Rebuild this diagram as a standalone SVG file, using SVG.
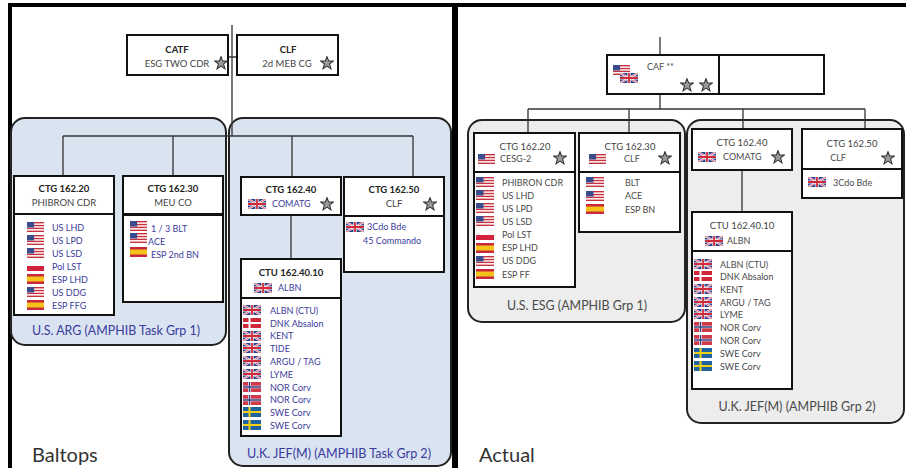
<svg xmlns="http://www.w3.org/2000/svg" xmlns:xlink="http://www.w3.org/1999/xlink" width="906" height="468" viewBox="0 0 906 468">
<style>
.frame{stroke:#000;fill:none}
.box{fill:#fff;stroke:#111;stroke-width:2}
.ln{stroke:#333;stroke-width:1.3;fill:none}
.grpB{fill:#d9e4f0;stroke:#222;stroke-width:2}
.grpG{fill:#ededed;stroke:#222;stroke-width:2}
text{font-family:Lato,"Liberation Sans",sans-serif}
.hb{font-size:9.5px;font-weight:bold;fill:#222;text-anchor:middle}
.hn{font-size:9.5px;fill:#444;text-anchor:middle}
.li{font-size:9px;fill:#3c3c9c}
.lr{font-size:9px;fill:#4a4a4a}
.gl{font-size:13px;fill:#3a3a9e;text-anchor:middle}
.gr{font-size:13px;fill:#4a4a4a;text-anchor:middle}
.big{font-size:20px;fill:#333}
</style>
<defs>
<symbol id="us" viewBox="0 0 18 10" preserveAspectRatio="none">
<rect width="18" height="10" fill="#fff"/>
<g fill="#c8313e"><rect y="0" width="18" height="1.4"/><rect y="2.85" width="18" height="1.4"/><rect y="5.7" width="18" height="1.4"/><rect y="8.6" width="18" height="1.4"/></g>
<rect width="7.5" height="5.5" fill="#3b4c8c"/>
</symbol>
<symbol id="uk" viewBox="0 0 18 10" preserveAspectRatio="none">
<rect width="18" height="10" fill="#2d3e8e"/>
<path d="M0 0L18 10M18 0L0 10" stroke="#fff" stroke-width="2"/>
<path d="M0 0L18 10M18 0L0 10" stroke="#cf2a3a" stroke-width="0.7"/>
<path d="M9 0V10M0 5H18" stroke="#fff" stroke-width="3.2"/>
<path d="M9 0V10M0 5H18" stroke="#cf2a3a" stroke-width="1.8"/>
</symbol>
<symbol id="es" viewBox="0 0 18 10" preserveAspectRatio="none">
<rect width="18" height="10" fill="#c8283a"/>
<rect y="2.5" width="18" height="5" fill="#f4c21b"/>
</symbol>
<symbol id="pl" viewBox="0 0 18 10" preserveAspectRatio="none">
<rect width="18" height="5" fill="#fafafa"/>
<rect y="5" width="18" height="5" fill="#d4213d"/>
</symbol>
<symbol id="dk" viewBox="0 0 18 10" preserveAspectRatio="none">
<rect width="18" height="10" fill="#d0283b"/>
<path d="M6.5 0V10M0 5H18" stroke="#fff" stroke-width="2"/>
</symbol>
<symbol id="no" viewBox="0 0 18 10" preserveAspectRatio="none">
<rect width="18" height="10" fill="#cf3a48"/>
<path d="M6.5 0V10M0 5H18" stroke="#fff" stroke-width="2.6"/>
<path d="M6.5 0V10M0 5H18" stroke="#2f3f86" stroke-width="1.3"/>
</symbol>
<symbol id="se" viewBox="0 0 18 10" preserveAspectRatio="none">
<rect width="18" height="10" fill="#1f63a0"/>
<path d="M6.5 0V10M0 5H18" stroke="#f0cf1a" stroke-width="2"/>
</symbol>
<symbol id="star" viewBox="-6 -6 12 12">
<polygon points="0,-5.5 1.4,-1.8 5.4,-1.7 2.2,0.8 3.4,5 0,2.6 -3.4,5 -2.2,0.8 -5.4,-1.7 -1.4,-1.8" fill="#9a9a9a" stroke="#333" stroke-width="0.9"/>
</symbol>
</defs>

<rect width="906" height="468" fill="#fff"/>

<g id="frames">
<line class="frame" x1="8" y1="5" x2="906" y2="5" stroke-width="4"/>
<line class="frame" x1="10" y1="5" x2="10" y2="468" stroke-width="4"/>
<line class="frame" x1="455" y1="5" x2="455" y2="468" stroke-width="6"/>
</g>

<g id="grp-us-arg"><rect class="grpB" x="11" y="118" width="215" height="227" rx="14"/>
<text class="gl" x="116" y="335" textLength="168" lengthAdjust="spacingAndGlyphs">U.S. ARG (AMPHIB Task Grp 1)</text></g>
<g id="grp-uk-jef-l"><rect class="grpB" x="229" y="118" width="222" height="348" rx="14"/>
<text class="gl" x="339" y="458" textLength="184" lengthAdjust="spacingAndGlyphs">U.K. JEF(M) (AMPHIB Task Grp 2)</text></g>
<g id="grp-us-esg"><rect class="grpG" x="468" y="120" width="217" height="202" rx="14"/>
<text class="gr" x="577" y="310" textLength="140" lengthAdjust="spacingAndGlyphs">U.S. ESG (AMPHIB Grp 1)</text></g>
<g id="grp-uk-jef-r"><rect class="grpG" x="687" y="120" width="217" height="303" rx="14"/>
<text class="gr" x="797" y="411" textLength="157" lengthAdjust="spacingAndGlyphs">U.K. JEF(M) (AMPHIB Grp 2)</text></g>

<g id="connectors">
<path class="ln" d="M232 25V136M228 57H237M63 136H413M63 136V176M173 136V176M292 136V177M413 136V177M291 215V259"/>
<path class="ln" d="M660 37V55M660 94V109M528 109H865M528 109V133M629 109V133M743 109V129M865 109V129M742 170V212"/>
</g>

<g id="catf">
<rect class="box" x="127" y="35" width="101" height="40"/>
<text class="hb" x="177" y="53">CATF</text>
<text class="hn" x="177" y="67" fill="#333">ESG TWO CDR</text>
<use href="#star" x="214" y="56" width="14" height="14"/>
</g>
<g id="clf-top">
<rect class="box" x="237" y="35" width="101" height="40"/>
<text class="hb" x="288" y="53">CLF</text>
<text class="hn" x="287" y="67">2d MEB CG</text>
<use href="#star" x="320" y="56" width="14" height="14"/>
</g>

<g id="ctg16220-l">
<rect class="box" x="14" y="176" width="100" height="38"/>
<rect class="box" x="14" y="214" width="100" height="101"/>
<text class="hb" x="64" y="192">CTG 162.20</text>
<text class="hn" x="64" y="206">PHIBRON CDR</text>
<use href="#us" x="27" y="222" width="17" height="10"/><text class="li" x="52" y="230.5">US LHD</text>
<use href="#us" x="27" y="235" width="17" height="10"/><text class="li" x="52" y="243.5">US LPD</text>
<use href="#us" x="27" y="248" width="17" height="10"/><text class="li" x="52" y="256.5">US LSD</text>
<use href="#pl" x="27" y="261" width="17" height="10"/><text class="li" x="52" y="269.5">Pol LST</text>
<use href="#es" x="27" y="274" width="17" height="10"/><text class="li" x="52" y="282.5">ESP LHD</text>
<use href="#us" x="27" y="287" width="17" height="10"/><text class="li" x="52" y="295.5">US DDG</text>
<use href="#es" x="27" y="300" width="17" height="10"/><text class="li" x="52" y="308.5">ESP FFG</text>
</g>

<g id="ctg16230-l">
<rect class="box" x="123" y="176" width="100" height="38"/>
<rect class="box" x="123" y="215" width="100" height="87"/>
<text class="hb" x="173" y="192">CTG 162.30</text>
<text class="hn" x="173" y="206">MEU CO</text>
<use href="#us" x="130" y="221" width="17" height="10"/><text class="li" x="151" y="232">1 / 3 BLT</text>
<use href="#us" x="130" y="233" width="17" height="10"/><text class="li" x="148" y="245">ACE</text>
<use href="#es" x="130" y="247" width="17" height="10"/><text class="li" x="151" y="258">ESP 2nd BN</text>
</g>

<g id="ctg16240-l">
<rect class="box" x="241" y="177" width="100" height="38"/>
<text class="hb" x="291" y="193">CTG 162.40</text>
<use href="#uk" x="248" y="199" width="18" height="10"/>
<text class="li" x="272" y="207" font-size="9.5">COMATG</text>
<use href="#star" x="320" y="197" width="14" height="14"/>
</g>

<g id="ctg16250-l">
<rect class="box" x="344" y="177" width="100" height="39"/>
<rect class="box" x="344" y="216" width="100" height="56"/>
<text class="hb" x="394" y="193">CTG 162.50</text>
<text class="hn" x="394" y="207" fill="#555">CLF</text>
<use href="#star" x="423" y="197" width="14" height="14"/>
<use href="#uk" x="346" y="222" width="18" height="10"/>
<text class="li" x="367" y="230">3Cdo Bde</text>
<text class="li" x="363" y="244">45 Commando</text>
</g>

<g id="ctu1624010-l">
<rect class="box" x="241" y="259" width="100" height="39"/>
<rect class="box" x="241" y="298" width="100" height="138"/>
<text class="hb" x="291" y="276">CTU 162.40.10</text>
<use href="#uk" x="254" y="283" width="18" height="10"/>
<text class="li" x="278" y="291" font-size="9.5">ALBN</text>
<use href="#uk" x="243" y="305" width="18" height="10"/><text class="li" x="270" y="313.5">ALBN (CTU)</text>
<use href="#dk" x="243" y="318" width="18" height="10"/><text class="li" x="270" y="326.5">DNK Absalon</text>
<use href="#uk" x="243" y="331" width="18" height="10"/><text class="li" x="270" y="339">KENT</text>
<use href="#uk" x="243" y="343" width="18" height="10"/><text class="li" x="270" y="352">TIDE</text>
<use href="#uk" x="243" y="356" width="18" height="10"/><text class="li" x="270" y="365">ARGU / TAG</text>
<use href="#uk" x="243" y="369" width="18" height="10"/><text class="li" x="270" y="377.5">LYME</text>
<use href="#no" x="243" y="382" width="18" height="10"/><text class="li" x="270" y="390.5">NOR Corv</text>
<use href="#no" x="243" y="395" width="18" height="10"/><text class="li" x="270" y="403">NOR Corv</text>
<use href="#se" x="243" y="407" width="18" height="10"/><text class="li" x="270" y="416">SWE Corv</text>
<use href="#se" x="243" y="420" width="18" height="10"/><text class="li" x="270" y="428.5">SWE Corv</text>
</g>

<g id="caf">
<rect class="box" x="607" y="55" width="217" height="39"/>
<line x1="719" y1="55" x2="719" y2="94" stroke="#111" stroke-width="2"/>
<use href="#us" x="613" y="65" width="17" height="10"/>
<use href="#uk" x="620" y="73" width="18" height="10"/>
<text class="lr" x="647" y="70">CAF **</text>
<use href="#star" x="680" y="78" width="14" height="14"/>
<use href="#star" x="699" y="78" width="14" height="14"/>
</g>

<g id="ctg16220-r">
<rect class="box" x="474" y="133" width="101" height="39"/>
<rect class="box" x="474" y="172" width="101" height="115"/>
<text class="hn" x="525" y="150" fill="#4a4a4a">CTG 162.20</text>
<use href="#us" x="478" y="154" width="17" height="10"/>
<text class="lr" x="500" y="162">CESG-2</text>
<use href="#star" x="553" y="151" width="14" height="14"/>
<use href="#us" x="476" y="177" width="18" height="10"/><text class="lr" x="502" y="185.5">PHIBRON CDR</text>
<use href="#us" x="476" y="190" width="18" height="10"/><text class="lr" x="502" y="198.5">US LHD</text>
<use href="#us" x="476" y="203" width="18" height="10"/><text class="lr" x="502" y="211.5">US LPD</text>
<use href="#us" x="476" y="216" width="18" height="10"/><text class="lr" x="502" y="224.5">US LSD</text>
<use href="#pl" x="476" y="230" width="18" height="10"/><text class="lr" x="502" y="238">Pol LST</text>
<use href="#es" x="476" y="243" width="18" height="10"/><text class="lr" x="502" y="251">ESP LHD</text>
<use href="#us" x="476" y="256" width="18" height="10"/><text class="lr" x="502" y="264">US DDG</text>
<use href="#es" x="476" y="269" width="18" height="10"/><text class="lr" x="502" y="277.5">ESP FF</text>
</g>

<g id="ctg16230-r">
<rect class="box" x="579" y="133" width="101" height="39"/>
<rect class="box" x="579" y="172" width="101" height="60"/>
<text class="hn" x="630" y="150" fill="#4a4a4a">CTG 162.30</text>
<use href="#us" x="589" y="154" width="17" height="10"/>
<text class="lr" x="624" y="162">CLF</text>
<use href="#star" x="658" y="151" width="14" height="14"/>
<use href="#us" x="586" y="177" width="18" height="10"/><text class="lr" x="625" y="185.5">BLT</text>
<use href="#us" x="586" y="191" width="18" height="10"/><text class="lr" x="625" y="199">ACE</text>
<use href="#es" x="586" y="204" width="18" height="10"/><text class="lr" x="625" y="212.5">ESP BN</text>
</g>

<g id="ctg16240-r">
<rect class="box" x="692" y="129" width="100" height="41"/>
<text class="hn" x="742" y="146" fill="#4a4a4a">CTG 162.40</text>
<use href="#uk" x="698" y="152" width="18" height="10"/>
<text class="lr" x="723" y="160">COMATG</text>
<use href="#star" x="771" y="150" width="14" height="14"/>
</g>

<g id="ctg16250-r">
<rect class="box" x="802" y="129" width="100" height="40"/>
<rect class="box" x="802" y="169" width="100" height="29"/>
<text class="hn" x="852" y="147" fill="#4a4a4a">CTG 162.50</text>
<text class="lr" x="838" y="161" text-anchor="middle">CLF</text>
<use href="#star" x="881" y="151" width="14" height="14"/>
<use href="#uk" x="808" y="177" width="18" height="10"/>
<text class="lr" x="833" y="185.5">3Cdo Bde</text>
</g>

<g id="ctu1624010-r">
<rect class="box" x="692" y="212" width="100" height="39"/>
<rect class="box" x="692" y="251" width="100" height="138"/>
<text class="hn" x="742" y="229" fill="#4a4a4a">CTU 162.40.10</text>
<use href="#uk" x="705" y="236" width="18" height="10"/>
<text class="lr" x="727" y="244">ALBN</text>
<use href="#uk" x="694" y="259" width="18" height="10"/><text class="lr" x="720" y="267.5">ALBN (CTU)</text>
<use href="#dk" x="694" y="271" width="18" height="10"/><text class="lr" x="720" y="279.5">DNK Absalon</text>
<use href="#uk" x="694" y="284" width="18" height="10"/><text class="lr" x="720" y="292.5">KENT</text>
<use href="#uk" x="694" y="297" width="18" height="10"/><text class="lr" x="720" y="305.5">ARGU / TAG</text>
<use href="#uk" x="694" y="309" width="18" height="10"/><text class="lr" x="720" y="317.5">LYME</text>
<use href="#no" x="694" y="322" width="18" height="10"/><text class="lr" x="720" y="330.5">NOR Corv</text>
<use href="#no" x="694" y="335" width="18" height="10"/><text class="lr" x="720" y="343.5">NOR Corv</text>
<use href="#se" x="694" y="348" width="18" height="10"/><text class="lr" x="720" y="356.5">SWE Corv</text>
<use href="#se" x="694" y="361" width="18" height="10"/><text class="lr" x="720" y="369.5">SWE Corv</text>
</g>

<g id="titles">
<text class="big" x="32" y="462">Baltops</text>
<text class="big" x="479" y="462">Actual</text>
</g>
</svg>
